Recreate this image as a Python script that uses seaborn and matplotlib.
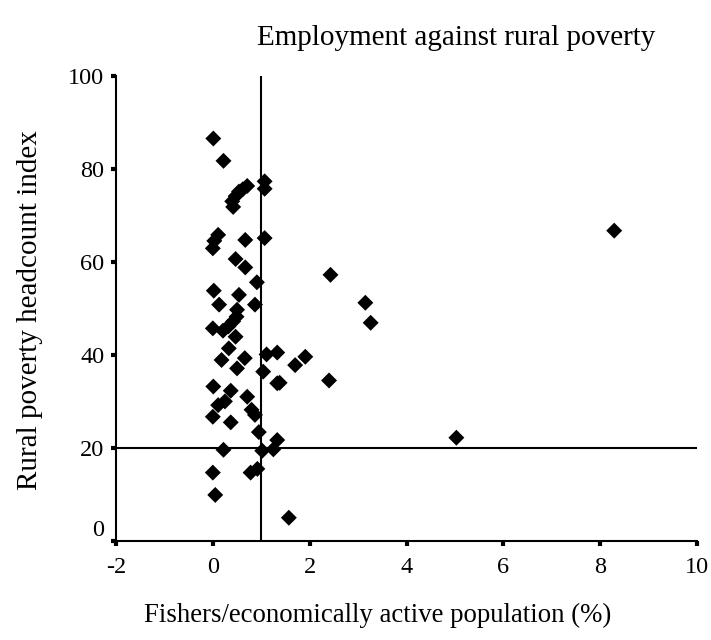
import matplotlib
matplotlib.use("Agg")
import matplotlib.pyplot as plt
import matplotlib.transforms as mtransforms
import seaborn as sns
import pandas as pd

# Fishers / economically active population (%)
fishers_pct = [
    0.01, 0.22, 1.07, 1.07, 0.71, 0.62, 0.54, 0.47, 0.40, 0.42,
    0.11, 0.03, 0.00, 0.67, 1.07,
    0.47, 0.67, 0.91, 0.02, 0.54, 0.13, 0.87, 0.50, 0.49, 0.42,
    0.32, 0.21, 0.00, 0.47, 0.33, 0.18, 0.66, 0.50, 1.11, 1.33,
    1.04, 1.38, 1.91, 1.70, 2.40, 2.43, 3.15, 3.26,
    1.33, 0.01, 0.37, 0.71, 0.25, 0.11, 0.00, 0.80, 0.87, 0.37,
    0.95, 1.33, 1.25, 1.02, 0.22, 0.00, 0.92, 0.78, 0.05, 1.57,
    5.03, 8.29,
]
# Rural poverty headcount index
poverty_idx = [
    86.5, 81.7, 77.3, 75.7, 76.3, 75.6, 75.1, 74.1, 73.0, 71.8,
    65.8, 64.5, 62.9, 64.7, 65.1,
    60.6, 58.8, 55.6, 53.8, 52.9, 50.8, 50.8, 49.7, 48.2, 47.2,
    46.1, 45.2, 45.7, 43.9, 41.4, 38.9, 39.3, 37.1, 40.1, 40.5,
    36.4, 34.0, 39.6, 37.8, 34.5, 57.2, 51.2, 46.9,
    33.9, 33.2, 32.3, 31.0, 30.0, 29.2, 26.7, 28.2, 27.1, 25.5,
    23.4, 21.7, 19.7, 19.4, 19.6, 14.7, 15.5, 14.7, 9.9, 5.0,
    22.2, 66.7,
]

x_ticks = [-2, 0, 2, 4, 6, 8, 10]
y_ticks = [0, 20, 40, 60, 80, 100]
ref_x = 1
ref_y = 20

title = "Employment against rural poverty"
x_label = "Fishers/economically active population (%)"
y_label = "Rural poverty headcount index"

df = pd.DataFrame({"fishers": fishers_pct, "poverty": poverty_idx})

sns.set_theme(style="white")
plt.rcParams["font.family"] = ["Liberation Serif", "DejaVu Serif"]

fig = plt.figure(figsize=(7.11, 6.4), dpi=100)
ax = fig.add_axes([116 / 711, 1 - 541 / 640, (697 - 116) / 711, (541 - 75.7) / 640])

sns.scatterplot(data=df, x="fishers", y="poverty", marker="D", color="black",
                s=66, edgecolor="none", linewidth=0, ax=ax, zorder=3)

ax.plot([ref_x, ref_x], [y_ticks[0], y_ticks[-1]], color="black", lw=1.5, zorder=2)
ax.plot([x_ticks[0], x_ticks[-1]], [ref_y, ref_y], color="black", lw=1.5, zorder=2)

ax.set_xlim(x_ticks[0], x_ticks[-1])
ax.set_ylim(y_ticks[0], y_ticks[-1])
ax.set_xticks(x_ticks)
ax.set_yticks(y_ticks)
ax.set_xticklabels([str(v) for v in x_ticks])
ax.set_yticklabels([str(v) for v in y_ticks])
ax.set_xlabel("")
ax.set_ylabel("")

for side in ["top", "right"]:
    ax.spines[side].set_visible(False)
for side in ["left", "bottom"]:
    ax.spines[side].set_color("black")
    ax.spines[side].set_linewidth(1.5)

ax.tick_params(axis="both", which="major", bottom=True, left=True, direction="out",
               length=3.5, width=3, color="black", labelsize=17.5, labelcolor="black")
ax.tick_params(axis="x", pad=8)
ax.tick_params(axis="y", pad=5)

# shift the "0" y label up a bit like the reference
lab0 = ax.get_yticklabels()[0]
lab0.set_transform(lab0.get_transform() + mtransforms.ScaledTranslation(0, 9 / 72, fig.dpi_scale_trans))

fig.text(456 / 711, 1 - 38 / 640, title, ha="center", va="center", fontsize=21, color="black")
fig.text(30 / 711, 1 - 310 / 640, y_label, ha="center", va="center", rotation=90,
         fontsize=21, color="black")
fig.text(378 / 711, 1 - 615 / 640, x_label, ha="center", va="center", fontsize=19.3, color="black")

fig.savefig("out.png", dpi=100)
